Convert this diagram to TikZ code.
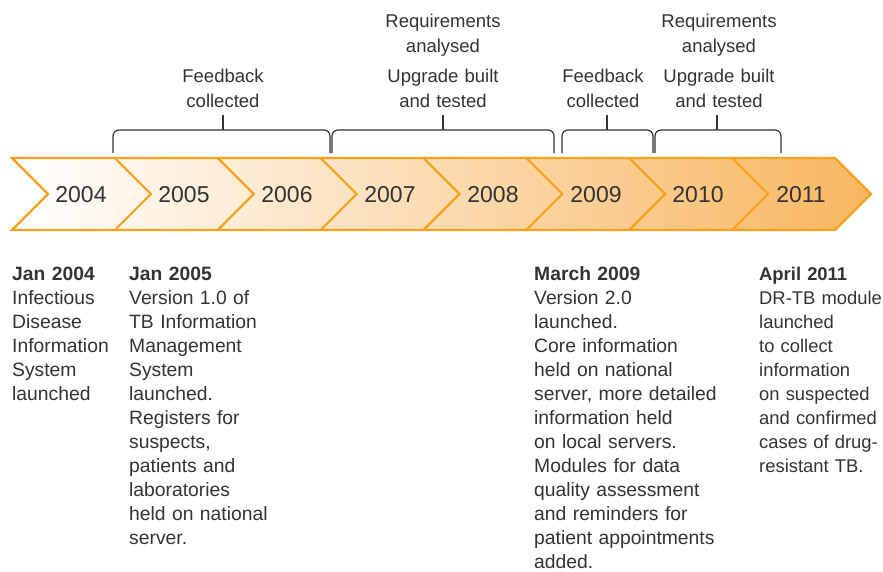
\documentclass[tikz,border=0pt]{standalone}
\usepackage{fontspec}
\setmainfont{Liberation Sans}
\definecolor{borderor}{HTML}{F5A31F}
\definecolor{fillor}{HTML}{F8B660}
\definecolor{txt}{HTML}{333333}
\begin{document}
\hyphenpenalty=10000
\exhyphenpenalty=10000
\begin{tikzpicture}[x=1pt,y=-1pt,
  yearlbl/.style={font=\fontsize{23}{27}\selectfont, text=txt, anchor=base, inner sep=0pt},
  toplbl/.style={font=\fontsize{18.5}{25}\selectfont, text=txt, anchor=base, inner sep=0pt, text width=160pt, align=center},
  col/.style={font=\fontsize{19.3}{24}\selectfont, text=txt, anchor=base west, inner sep=0pt, text width=#1, align=left},
  narrowcol/.style={font=\fontsize{18.4}{24}\selectfont},
  bracket/.style={draw=txt, line width=1.2pt, rounded corners=6pt},
  ticker/.style={draw=txt, line width=1.2pt},
  chevline/.style={draw=borderor, line width=2.2pt, line join=miter}]
\useasboundingbox (0,0) rectangle (883,571);
% band
\shade[left color=white, right color=fillor]
  (12,158) -- (835,158) -- (871,194) -- (835,230) -- (12,230) -- (48,194) -- cycle;
\foreach \b in {114.9,217.75,320.6,423.5,526.4,629.25,732.1}
  \draw[chevline] (\b,158) -- (\b+36,194) -- (\b,230);
\draw[chevline]
  (12,158) -- (835,158) -- (871,194) -- (835,230) -- (12,230) -- (48,194) -- cycle;
% years
\node[yearlbl] (y04) at (81,202) {2004};
\node[yearlbl] (y05) at (184,202) {2005};
\node[yearlbl] (y06) at (287,202) {2006};
\node[yearlbl] (y07) at (390,202) {2007};
\node[yearlbl] (y08) at (493,202) {2008};
\node[yearlbl] (y09) at (596,202) {2009};
\node[yearlbl] (y10) at (698,202) {2010};
\node[yearlbl] (y11) at (801,202) {2011};
% brackets
\coordinate (t1) at (223,115);
\coordinate (t2) at (443,115);
\coordinate (t3) at (607,115);
\coordinate (t4) at (717,115);
\draw[bracket] (113,153) -- (113,130) -- (330,130) -- (330,153);
\draw[bracket] (332,153) -- (332,130) -- (554,130) -- (554,153);
\draw[bracket] (562,153) -- (562,130) -- (653,130) -- (653,153);
\draw[bracket] (655,153) -- (655,130) -- (781,130) -- (781,153);
\draw[ticker] (t1) -- (223,130);
\draw[ticker] (t2) -- (443,130);
\draw[ticker] (t3) -- (607,130);
\draw[ticker] (t4) -- (717,130);
% top labels
\node[toplbl] (fb1) at (223,82) {Feedback\\collected};
\node[toplbl] (rq1) at (443,27) {Requirements\\analysed};
\node[toplbl] (up1) at (443,82) {Upgrade built\\and tested};
\node[toplbl] (fb2) at (603,82) {Feedback\\collected};
\node[toplbl] (rq2) at (719,27) {Requirements\\analysed};
\node[toplbl] (up2) at (719,82) {Upgrade built\\and tested};
% bottom columns
\node[col=110pt] (c1) at (12,280) {\textbf{Jan 2004}\\Infectious\\Disease\\Information\\System\\launched};
\node[col=150pt] (c2) at (129,280) {\textbf{Jan 2005}\\Version 1.0 of\\TB Information\\Management\\System\\launched.\\Registers for\\suspects,\\patients and\\laboratories\\held on national\\server.};
\node[col=200pt] (c3) at (534,280) {\textbf{March 2009}\\Version 2.0\\launched.\\Core information\\held on national\\server, more detailed\\information held\\on local servers.\\Modules for data\\quality assessment\\and reminders for\\patient appointments\\added.};
\node[col=170pt, narrowcol] (c4) at (759,280) {\textbf{April 2011}\\DR-TB module\\launched\\to collect\\information\\on suspected\\and confirmed\\cases of drug-\\resistant TB.};
\end{tikzpicture}
\end{document}
